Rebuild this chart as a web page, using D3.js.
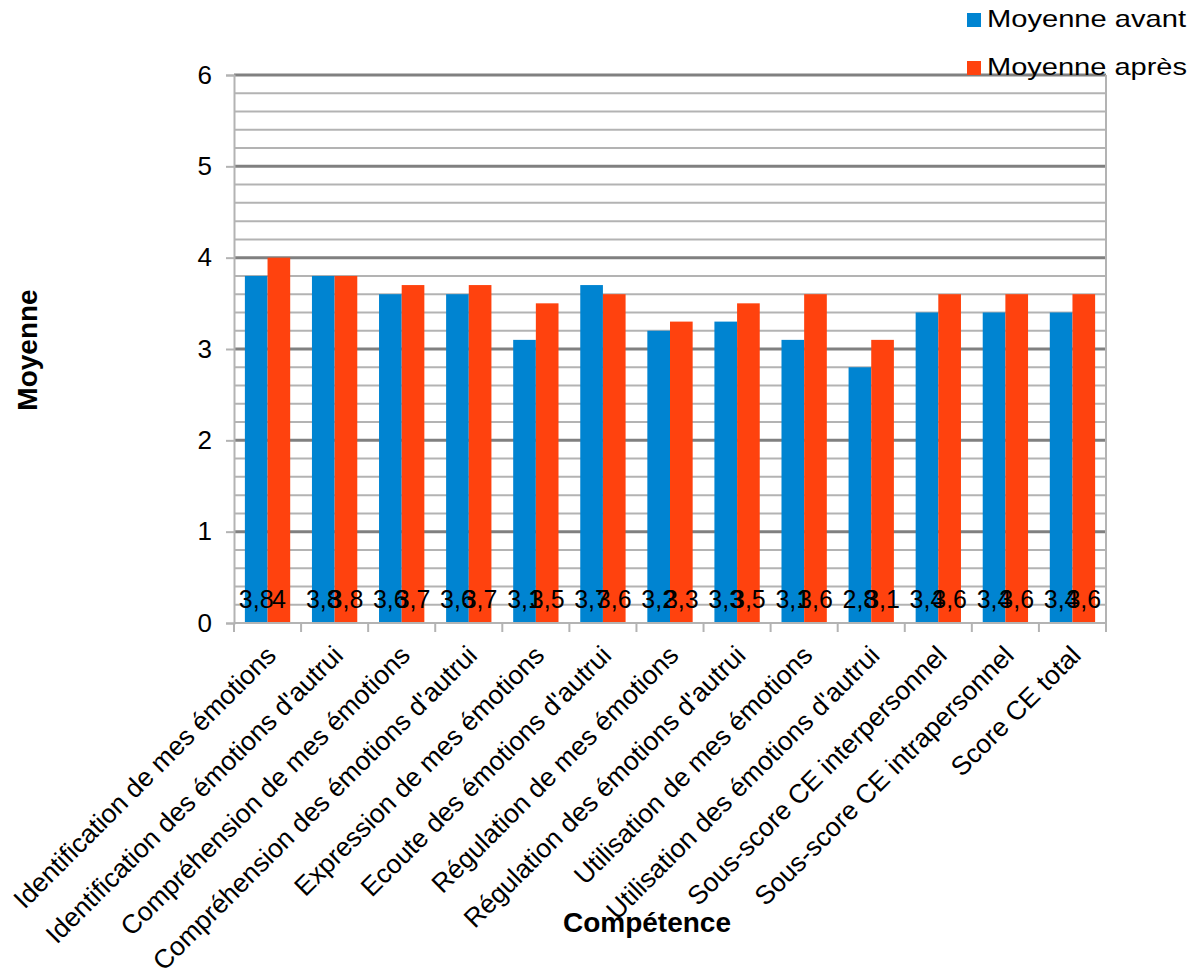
<!DOCTYPE html>
<html>
<head>
<meta charset="utf-8">
<script src="https://cdn.jsdelivr.net/npm/d3@7"></script>
<style>
  body { margin: 0; background: #fff; }
  text { font-family: "Liberation Sans", Arial, sans-serif; fill: #000; }
</style>
</head>
<body>
<script>
var categories = [
    "Identification de mes émotions",
    "Identification des émotions d'autrui",
    "Compréhension de mes émotions",
    "Compréhension des émotions d'autrui",
    "Expression de mes émotions",
    "Ecoute des émotions d'autrui",
    "Régulation de mes émotions",
    "Régulation des émotions d'autrui",
    "Utilisation de mes émotions",
    "Utilisation des émotions d'autrui",
    "Sous-score CE interpersonnel",
    "Sous-score CE intrapersonnel",
    "Score CE total"
];
var seriesNames = ["Moyenne avant", "Moyenne après"];
var avant = [3.8, 3.8, 3.6, 3.6, 3.1, 3.7, 3.2, 3.3, 3.1, 2.8, 3.4, 3.4, 3.4];
var apres = [4, 3.8, 3.7, 3.7, 3.5, 3.6, 3.3, 3.5, 3.6, 3.1, 3.6, 3.6, 3.6];
var yTicks = [0, 1, 2, 3, 4, 5, 6];

var width = 1198, height = 976;
var plotLeft = 234, plotRight = 1106, plotTop = 75, plotBottom = 623;
var colors = ["#0084d1", "#ff420e"];

var svg = d3.select("body").append("svg")
    .attr("width", width)
    .attr("height", height);

var x = d3.scaleBand().domain(d3.range(categories.length)).range([plotLeft, plotRight]);
var xs = d3.scaleBand().domain([0, 1]).range([0, x.bandwidth()]).paddingInner(0).paddingOuter(0.48);
var y = d3.scaleLinear().domain([0, 6]).range([plotBottom, plotTop]);

var fr = d3.formatLocale({decimal: ",", thousands: " ", grouping: [3], currency: ["", "€"]});
var fmt = fr.format("~g");

// minor grid every 0.2
var minor = d3.range(0, 6.001, 0.2).filter(function(v) { return Math.abs(v - Math.round(v)) > 0.01; });
svg.append("g").selectAll("line").data(minor).enter().append("line")
    .attr("x1", plotLeft).attr("x2", plotRight)
    .attr("y1", function(d) { return y(d); }).attr("y2", function(d) { return y(d); })
    .attr("stroke", "#b3b3b3").attr("stroke-width", 2);

// major grid
svg.append("g").selectAll("line").data(yTicks.slice(1)).enter().append("line")
    .attr("x1", plotLeft).attr("x2", plotRight)
    .attr("y1", function(d) { return y(d); }).attr("y2", function(d) { return y(d); })
    .attr("stroke", "#808080").attr("stroke-width", 3);

// right border
svg.append("line")
    .attr("x1", plotRight).attr("x2", plotRight).attr("y1", plotTop).attr("y2", plotBottom + 9)
    .attr("stroke", "#b3b3b3").attr("stroke-width", 2);

// bars
var series = [avant, apres];
series.forEach(function(vals, s) {
    svg.append("g").selectAll("rect").data(vals).enter().append("rect")
        .attr("x", function(d, i) { return x(i) + xs(s); })
        .attr("width", xs.bandwidth())
        .attr("y", function(d) { return y(d); })
        .attr("height", function(d) { return y(0) - y(d); })
        .attr("fill", colors[s]);
});

// y axis
var yAxis = svg.append("g")
    .attr("transform", "translate(" + plotLeft + ",0)")
    .call(d3.axisLeft(y).tickValues(yTicks).tickSize(8).tickPadding(14).tickFormat(d3.format("d")));
yAxis.select(".domain").attr("stroke", "#b3b3b3").attr("stroke-width", 2);
yAxis.selectAll(".tick line").attr("stroke", "#b3b3b3").attr("stroke-width", 2);
yAxis.selectAll(".tick text")
    .style("font-size", "26px")
    .style("font-family", "Liberation Sans, Arial, sans-serif")
    .attr("fill", "#000");

// x axis baseline and ticks at band boundaries
svg.append("line")
    .attr("x1", plotLeft).attr("x2", plotRight).attr("y1", plotBottom).attr("y2", plotBottom)
    .attr("stroke", "#b3b3b3").attr("stroke-width", 2);
svg.append("g").selectAll("line").data(d3.range(categories.length + 1)).enter().append("line")
    .attr("x1", function(d) { return plotLeft + d * x.step(); })
    .attr("x2", function(d) { return plotLeft + d * x.step(); })
    .attr("y1", plotBottom).attr("y2", plotBottom + 9)
    .attr("stroke", "#b3b3b3").attr("stroke-width", 2);

// data labels
series.forEach(function(vals, s) {
    svg.append("g").selectAll("text").data(vals).enter().append("text")
        .attr("x", function(d, i) { return x(i) + xs(s) + xs.bandwidth() / 2; })
        .attr("y", plotBottom - 15)
        .attr("text-anchor", "middle")
        .style("font-size", "25px")
        .text(function(d) { return fmt(d); });
});

// category labels
svg.append("g").selectAll("text").data(categories).enter().append("text")
    .attr("transform", function(d, i) {
        return "translate(" + (x(i) + x.bandwidth() / 2 + 10) + "," + (plotBottom + 34) + ") rotate(-45)";
    })
    .attr("text-anchor", "end")
    .style("font-size", "26.5px")
    .text(function(d) { return d; });

// axis titles
svg.append("text")
    .attr("x", 647).attr("y", 932)
    .attr("text-anchor", "middle")
    .style("font-size", "28px").style("font-weight", "bold")
    .text("Compétence");

svg.append("text")
    .attr("transform", "translate(37,350) rotate(-90)")
    .attr("text-anchor", "middle")
    .style("font-size", "28px").style("font-weight", "bold")
    .text("Moyenne");

// legend
var legend = svg.append("g").selectAll("g").data(seriesNames).enter().append("g")
    .attr("transform", function(d, i) { return "translate(967," + (13 + i * 48) + ")"; });
legend.append("rect")
    .attr("width", 14).attr("height", 14)
    .attr("fill", function(d, i) { return colors[i]; });
legend.append("text")
    .attr("x", 20).attr("y", 14)
    .attr("textLength", function(d, i) { return i == 0 ? 199 : 200; })
    .attr("lengthAdjust", "spacingAndGlyphs")
    .style("font-size", "24px")
    .text(function(d) { return d; });
</script>
</body>
</html>
